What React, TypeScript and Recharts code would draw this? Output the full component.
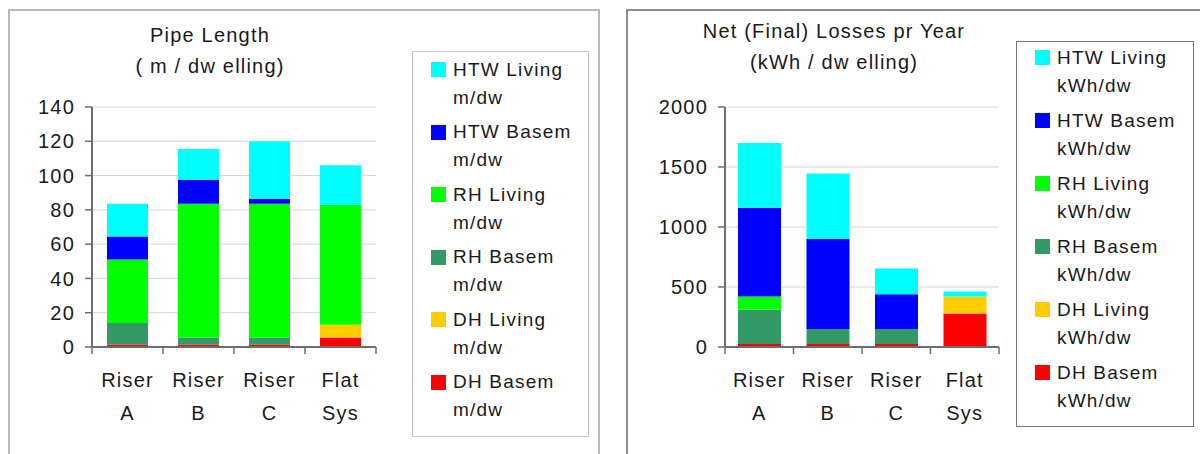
import { BarChart, Bar, XAxis, YAxis, CartesianGrid, Legend } from 'recharts';

const categories = ['Riser A', 'Riser B', 'Riser C', 'Flat Sys'];

// stack order, bottom to top
const seriesNames = ['DH Basem', 'DH Living', 'RH Basem', 'RH Living', 'HTW Basem', 'HTW Living'];
const seriesColors = ['#ff0000', '#ffcc00', '#339966', '#00ff00', '#0000ff', '#00ffff'];

// pipe length, m / dwelling
const dhBasemLen = [1.5, 1.5, 1.5, 5.5];
const dhLivingLen = [0, 0, 0, 7.5];
const rhBasemLen = [12.5, 4, 4, 0];
const rhLivingLen = [37, 78, 78, 70];
const htwBasemLen = [13.5, 14, 3, 0];
const htwLivingLen = [19, 18, 33.5, 23];
const lengthTicks = [0, 20, 40, 60, 80, 100, 120, 140];

// net losses per year, kWh / dwelling
const dhBasemLoss = [25, 25, 25, 280];
const dhLivingLoss = [0, 0, 0, 140];
const rhBasemLoss = [285, 125, 125, 0];
const rhLivingLoss = [110, 0, 0, 0];
const htwBasemLoss = [740, 750, 290, 0];
const htwLivingLoss = [540, 545, 215, 42];
const lossTicks = [0, 500, 1000, 1500, 2000];

const lengthSeries = [dhBasemLen, dhLivingLen, rhBasemLen, rhLivingLen, htwBasemLen, htwLivingLen];
const lossSeries = [dhBasemLoss, dhLivingLoss, rhBasemLoss, rhLivingLoss, htwBasemLoss, htwLivingLoss];

const buildRows = (series: number[][]) =>
  categories.map((name, i) => {
    const row: Record<string, string | number> = { name };
    series.forEach((vals, k) => {
      row['s' + k] = vals[i];
    });
    return row;
  });

const lengthData = buildRows(lengthSeries);
const lossData = buildRows(lossSeries);

const AXIS = '#6e6e6e';
const FRAME = '#8c8c8c';
const TEXT = '#1a1a1a';

const CategoryTick = (props: any) => {
  const { x, y, payload, index, visibleTicksCount, half } = props;
  const off = payload.offset || half;
  const [top, bottom] = String(payload.value).split(' ');
  return (
    <g>
      <line x1={x - off} x2={x - off} y1={y} y2={y + 7} stroke={AXIS} strokeWidth={1.5} />
      {index === visibleTicksCount - 1 && (
        <line x1={x + off} x2={x + off} y1={y} y2={y + 7} stroke={AXIS} strokeWidth={1.5} />
      )}
      <text x={x} y={y + 40} textAnchor="middle" fill={TEXT} fontSize={20}>
        {top}
      </text>
      <text x={x} y={y + 73} textAnchor="middle" fill={TEXT} fontSize={20}>
        {bottom}
      </text>
    </g>
  );
};

// legend lists the top of the stack first
const makeLegend = (padTop: number, pitch: number) => (props: any) => {
  const items = [...(props.payload || [])].sort(
    (a: any, b: any) => seriesNames.indexOf(b.payload?.seriesName) - seriesNames.indexOf(a.payload?.seriesName)
  );
  return (
    <div style={{ paddingTop: padTop, fontSize: 19, color: TEXT }}>
      {items.map((p: any) => {
        const label = String(p.value);
        const cut = label.lastIndexOf(' ');
        return (
          <div key={label} style={{ position: 'relative', height: pitch, paddingLeft: 40 }}>
            <span
              style={{ position: 'absolute', left: 17.5, top: 6.5, width: 15, height: 15, background: p.color }}
            />
            <div style={{ lineHeight: '28px', whiteSpace: 'nowrap' }}>{label.slice(0, cut)}</div>
            <div style={{ lineHeight: '28px', whiteSpace: 'nowrap' }}>{label.slice(cut + 1)}</div>
          </div>
        );
      })}
    </div>
  );
};

interface PanelProps {
  data: Record<string, string | number>[];
  unit: string;
  width: number;
  yWidth: number;
  rightMargin: number;
  ticks: number[];
  gap: number;
  legendBox: { left: number; top: number; width: number; height: number; border: string };
  legendPad: number;
  legendPitch: number;
}

function StackPanel(p: PanelProps) {
  const plotWidth = p.width - p.yWidth - p.rightMargin;
  const half = plotWidth / categories.length / 2;
  return (
    <BarChart
      width={p.width}
      height={454}
      data={p.data}
      margin={{ top: 107, right: p.rightMargin, bottom: 0, left: 0 }}
      barCategoryGap={p.gap}
    >
      <CartesianGrid horizontal vertical={false} stroke="#d4d4d4" />
      <XAxis
        dataKey="name"
        height={107}
        tickSize={0}
        tickMargin={0}
        tickLine={false}
        interval={0}
        axisLine={{ stroke: AXIS, strokeWidth: 2 }}
        tick={<CategoryTick half={half} />}
      />
      <XAxis xAxisId="frame" orientation="top" dataKey="name" height={0} tick={false} tickLine={false}
        axisLine={{ stroke: FRAME, strokeWidth: 2 }} />
      <YAxis
        width={p.yWidth}
        domain={[p.ticks[0], p.ticks[p.ticks.length - 1]]}
        ticks={p.ticks}
        interval={0}
        tickSize={7}
        tickMargin={10}
        tickLine={{ stroke: AXIS, strokeWidth: 1.5 }}
        axisLine={{ stroke: AXIS, strokeWidth: 2 }}
        tick={{ fill: TEXT, fontSize: 20 }}
      />
      <YAxis yAxisId="frame" orientation="right" width={0} tick={false} tickLine={false}
        axisLine={{ stroke: FRAME, strokeWidth: 2 }} />
      <Legend
        layout="horizontal"
        verticalAlign="middle"
        align="center"
        itemSorter="dataKey"
        content={makeLegend(p.legendPad, p.legendPitch)}
        wrapperStyle={{
          left: p.legendBox.left,
          top: p.legendBox.top,
          width: p.legendBox.width,
          height: p.legendBox.height,
          border: p.legendBox.border,
          boxSizing: 'border-box',
          background: '#fff',
        }}
      />
      {seriesNames.map((name, k) => (
        <Bar
          key={name}
          dataKey={'s' + k}
          stackId="a"
          name={name + ' ' + p.unit}
          seriesName={name}
          fill={seriesColors[k]}
          isAnimationActive={false}
        />
      ))}
    </BarChart>
  );
}

const titleStyle = {
  position: 'absolute' as const,
  width: 320,
  textAlign: 'center' as const,
  fontSize: 20,
  lineHeight: '31px',
  color: TEXT,
};

export default function App() {
  return (
    <div
      style={{
        position: 'absolute',
        left: 0,
        top: 0,
        width: 1200,
        height: 454,
        overflow: 'hidden',
        background: '#fff',
        fontFamily: '"Liberation Sans", Arial, sans-serif',
        letterSpacing: '1.2px',
      }}
    >
      <div style={{ position: 'absolute', left: 8, top: 9, width: 588, height: 480, border: '2px solid #b8b8b8' }} />
      <div style={{ position: 'absolute', left: 626, top: 9, width: 600, height: 480, border: '2px solid #8e8e8e' }} />

      <div style={{ ...titleStyle, left: 50, top: 20 }}>
        Pipe Length
        <br />( m / dw elling)
      </div>
      <div style={{ ...titleStyle, left: 674, top: 16 }}>
        Net (Final) Losses pr Year
        <br />
        (kWh / dw elling)
      </div>

      <div style={{ position: 'absolute', left: 0, top: 0 }}>
        <StackPanel
          data={lengthData}
          unit="m/dw"
          width={600}
          yWidth={92}
          rightMargin={224}
          ticks={lengthTicks}
          gap={15}
          legendBox={{ left: 412, top: 51, width: 177, height: 386, border: '1.5px solid #c4c4c4' }}
          legendPad={3.5}
          legendPitch={62.6}
        />
      </div>
      <div style={{ position: 'absolute', left: 620, top: 0 }}>
        <StackPanel
          data={lossData}
          unit="kWh/dw"
          width={580}
          yWidth={105}
          rightMargin={201}
          ticks={lossTicks}
          gap={13}
          legendBox={{ left: 396, top: 41, width: 178, height: 386, border: '1.5px solid #777' }}
          legendPad={1.5}
          legendPitch={63}
        />
      </div>
    </div>
  );
}
